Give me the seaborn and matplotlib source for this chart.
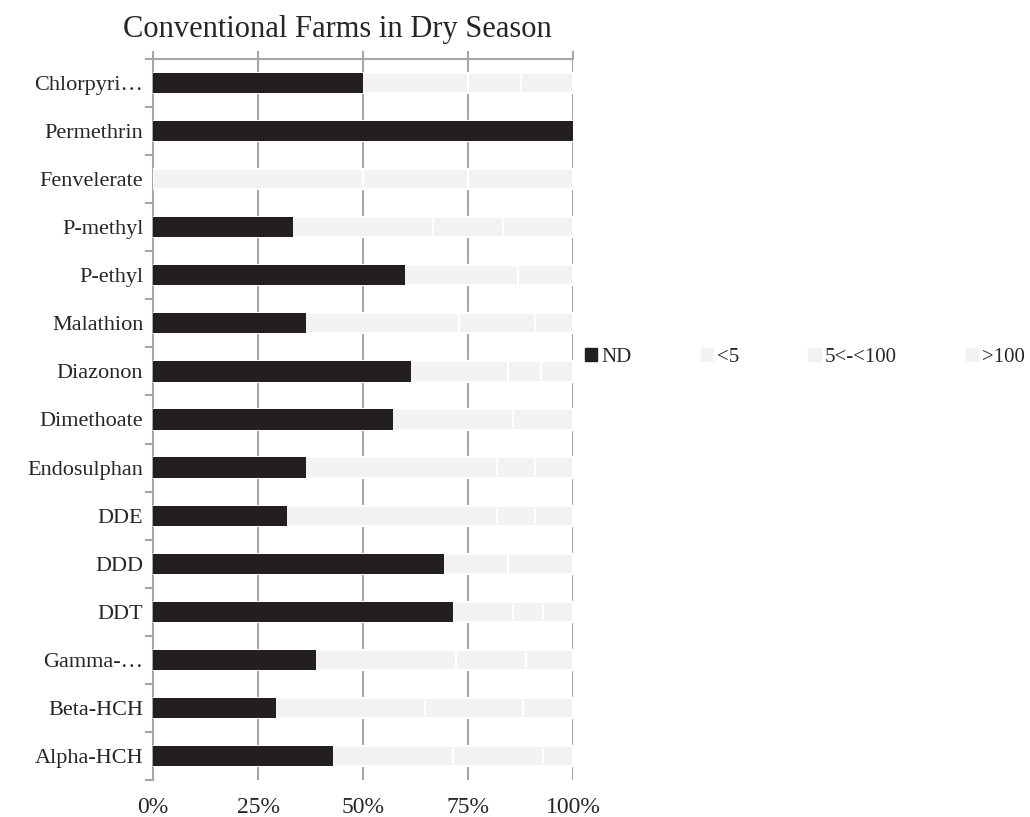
import numpy as np
import pandas as pd
import matplotlib.pyplot as plt
import matplotlib.patches as mpatches
from matplotlib.ticker import FixedLocator, PercentFormatter
import seaborn as sns

# Pesticides, top to bottom as in the chart
pesticides = ["Chlorpyri…", "Permethrin", "Fenvelerate", "P-methyl", "P-ethyl",
              "Malathion", "Diazonon", "Dimethoate", "Endosulphan", "DDE",
              "DDD", "DDT", "Gamma-…", "Beta-HCH", "Alpha-HCH"]

# Share of samples in each concentration class
nd = [0.500, 1.000, 0.000, 0.333, 0.600, 0.364, 0.615, 0.571, 0.364, 0.318,
      0.692, 0.714, 0.389, 0.294, 0.429]
lt5 = [0.250, 0.000, 0.500, 0.333, 0.270, 0.364, 0.231, 0.286, 0.455, 0.500,
       0.154, 0.143, 0.333, 0.353, 0.286]
mid = [0.125, 0.000, 0.250, 0.167, 0.130, 0.182, 0.077, 0.143, 0.091, 0.091,
       0.154, 0.071, 0.167, 0.235, 0.214]
gt100 = [0.125, 0.000, 0.250, 0.167, 0.000, 0.090, 0.077, 0.000, 0.090, 0.091,
         0.000, 0.072, 0.111, 0.118, 0.071]

series_names = ["ND", "<5", "5<-<100", ">100"]
x_ticks = [0, 0.25, 0.5, 0.75, 1.0]

black = "#231f20"
light = "#f2f2f2"
grid_gray = "#a6a6a6"

df = pd.DataFrame({"Pesticide": pesticides, "ND": nd, "<5": lt5,
                   "5<-<100": mid, ">100": gt100})
cum = df[series_names].cumsum(axis=1)

sns.set_style("white")
plt.rcParams["font.family"] = ["Liberation Serif", "DejaVu Serif"]

fig = plt.figure(figsize=(10.3, 8.17), dpi=100)
ax = fig.add_axes([153 / 1030, 1 - 780 / 817, 420 / 1030, 721 / 817])

# stacked bars: draw the cumulative totals from the widest down
for name in reversed(series_names):
    is_nd = name == "ND"
    sns.barplot(x=cum[name], y=df["Pesticide"], orient="h", ax=ax,
                color=black if is_nd else light, saturation=1, width=0.42,
                edgecolor="none" if is_nd else "white",
                linewidth=0 if is_nd else 1.5, zorder=3)

ax.set_xlim(0, 1)
ax.set_ylim(len(pesticides) - 0.5, -0.5)
ax.set_xlabel("")
ax.set_ylabel("")

ax.xaxis.set_major_locator(FixedLocator(x_ticks))
ax.xaxis.set_major_formatter(PercentFormatter(1.0, decimals=0))
ax.grid(axis="x", color=grid_gray, linewidth=1.5, zorder=0)
ax.grid(axis="y", visible=False)
ax.tick_params(axis="x", bottom=False, top=True, labelbottom=True, labeltop=False,
               length=6, width=1.5, color=grid_gray, labelsize=17, pad=6)

ax.yaxis.set_minor_locator(FixedLocator(np.arange(-0.5, len(pesticides), 1.0)))
ax.tick_params(axis="y", which="major", length=0, labelsize=16, pad=7)
ax.tick_params(axis="y", which="minor", left=True, length=6, width=1.5,
               color=grid_gray, direction="out")

for side in ["right", "bottom"]:
    ax.spines[side].set_visible(False)
for side in ["top", "left"]:
    ax.spines[side].set_color(grid_gray)
    ax.spines[side].set_linewidth(1.5)

fig.text(337 / 1030, 1 - 30 / 817, "Conventional Farms in Dry Season",
         ha="center", va="center", fontsize=22)

handles = [mpatches.Patch(color=black if n == "ND" else light, label=n)
           for n in series_names]
fig.legend(handles=handles, loc="center", bbox_to_anchor=(805 / 1030, 1 - 357 / 817),
           ncol=4, frameon=False, fontsize=15, handlelength=0.6, handleheight=0.6,
           handletextpad=0.2, columnspacing=3.3)

fig.savefig("out.png", dpi=100)
